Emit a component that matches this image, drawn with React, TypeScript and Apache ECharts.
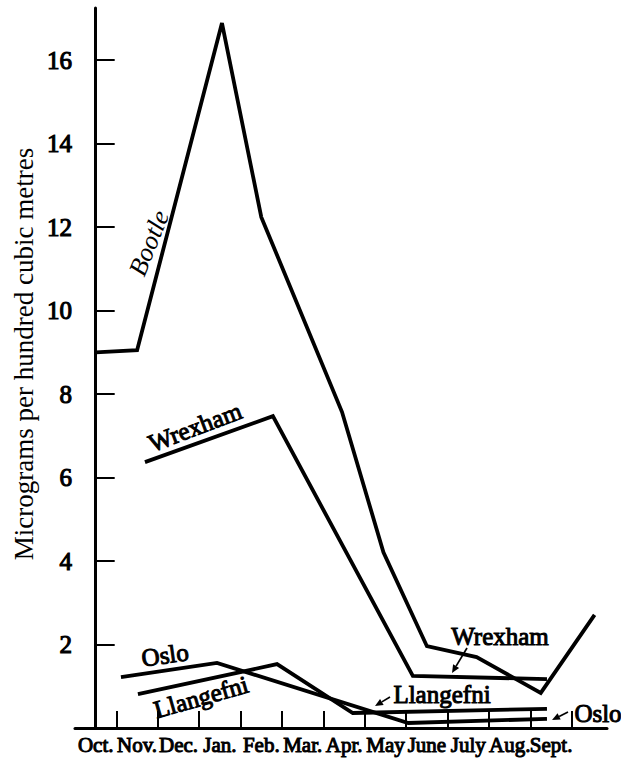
import React, { useEffect, useRef } from "react";
import * as echarts from "echarts";

// Month labels (category bands along the x axis)
const months = ["Oct.", "Nov.", "Dec.", "Jan.", "Feb.", "Mar.", "Apr.", "May", "June", "July", "Aug.", "Sept."];
const monthPositions = [0, 1, 2, 3, 4, 5, 6, 7, 8, 9, 10, 11];
const monthBoundaries = [0.5, 1.5, 2.5, 3.5, 4.5, 5.5, 6.5, 7.5, 8.5, 9.5, 10.5, 11.5];
const yTicks = [2, 4, 6, 8, 10, 12, 14, 16];

// Series: x = month position (0 = Oct.), y = micrograms per hundred cubic metres
const bootleX = [0, 1, 3.05, 4, 5.95, 6.95, 8, 9.2, 10.75, 12.05];
const bootleY = [9.0, 9.05, 16.89, 12.24, 7.57, 4.21, 1.96, 1.7, 0.84, 2.71];

const wrexhamX = [1.19, 4.28, 7.66, 10.9];
const wrexhamY = [6.37, 7.47, 1.25, 1.17];

const osloX = [0.61, 2.93, 7.55, 10.9];
const osloY = [1.22, 1.56, 0.12, 0.22];

const llangefniX = [1.02, 4.38, 6.21, 10.9];
const llangefniY = [0.81, 1.53, 0.36, 0.46];

const X_MIN = -0.5;
const X_MAX = 12.35;

const pairs = (xs: number[], ys: number[]) => xs.map((x, i) => [x, ys[i]]);

const SERIF = "Liberation Serif, Times New Roman, serif";

function arrow(x1: number, y1: number, x2: number, y2: number) {
  const dx = x2 - x1;
  const dy = y2 - y1;
  const len = Math.sqrt(dx * dx + dy * dy);
  const ux = dx / len;
  const uy = dy / len;
  const hl = 8;
  const hw = 3.5;
  const bx = x2 - ux * hl;
  const by = y2 - uy * hl;
  return {
    type: "group",
    children: [
      {
        type: "line",
        shape: { x1, y1, x2: bx, y2: by },
        style: { stroke: "#000", lineWidth: 1.7 },
      },
      {
        type: "polygon",
        shape: {
          points: [
            [x2, y2],
            [bx - uy * hw, by + ux * hw],
            [bx + uy * hw, by - ux * hw],
          ],
        },
        style: { fill: "#000" },
      },
    ],
  };
}

function label(text: string, x: number, y: number, deg: number, opts: any = {}) {
  const bold = opts.bold !== false;
  return {
    type: "text",
    x,
    y,
    rotation: (deg * Math.PI) / 180,
    style: {
      text,
      x: 0,
      y: 0,
      align: "center",
      verticalAlign: "middle",
      fill: "#000",
      stroke: bold ? "#000" : undefined,
      lineWidth: bold ? 1.0 : 0,
      font: opts.font || `25px ${SERIF}`,
    },
  };
}

export default function App() {
  const ref = useRef<HTMLDivElement>(null);

  useEffect(() => {
    if (!ref.current) return;
    const chart = echarts.init(ref.current, null, { renderer: "svg" });
    const lineStyle = { color: "#000", width: 3.8, join: "miter", cap: "butt" };
    const mk = (name: string, xs: number[], ys: number[]) => ({
      name,
      type: "line",
      data: pairs(xs, ys),
      symbol: "none",
      silent: true,
      lineStyle,
      z: 3,
    });
    chart.setOption({
      animation: false,
      backgroundColor: "#fff",
      grid: { left: 75, right: 14, top: 8, bottom: 36, containLabel: false },
      xAxis: {
        type: "value",
        min: X_MIN,
        max: X_MAX,
        axisLine: { show: true, lineStyle: { color: "#000", width: 3 } },
        axisTick: {
          show: true,
          inside: true,
          length: 17,
          customValues: monthBoundaries,
          lineStyle: { color: "#000", width: 2 },
        },
        axisLabel: {
          show: true,
          // blank end labels absorb the min/max overlap check so every month stays visible
          customValues: [X_MIN, ...monthPositions, X_MAX],
          formatter: (v: number) => (Number.isInteger(v) ? months[v] ?? " " : " "),
          color: "#000",
          fontFamily: SERIF,
          fontSize: 21,
          textBorderColor: "#000",
          textBorderWidth: 1.0,
          margin: 6,
          hideOverlap: false,
        },
        splitLine: { show: false },
      },
      yAxis: {
        type: "value",
        min: 0,
        max: 17.25,
        axisLine: { show: true, lineStyle: { color: "#000", width: 3 } },
        axisTick: {
          show: true,
          inside: true,
          length: 19,
          customValues: yTicks,
          lineStyle: { color: "#000", width: 2 },
        },
        axisLabel: {
          show: true,
          customValues: yTicks,
          color: "#000",
          fontFamily: SERIF,
          fontSize: 25,
          textBorderColor: "#000",
          textBorderWidth: 1.1,
          margin: 3,
          showMinLabel: true,
          showMaxLabel: true,
        },
        splitLine: { show: false },
      },
      series: [
        mk("Bootle", bootleX, bootleY),
        mk("Wrexham", wrexhamX, wrexhamY),
        mk("Oslo", osloX, osloY),
        mk("Llangefni", llangefniX, llangefniY),
      ],
      graphic: [
        label("Micrograms per hundred cubic metres", 24, 354, 90, { font: `27px ${SERIF}`, bold: false }),
        label("Bootle", 149, 243, 68, { font: `italic 26px ${SERIF}`, bold: false }),
        label("Wrexham", 195, 427, 20.7),
        label("Wrexham", 500, 636, 0),
        label("Oslo", 165, 655, 8),
        label("Llangefni", 201, 697, 16),
        label("Llangefni", 442, 694, 0),
        label("Oslo", 598, 713, 0),
        arrow(467, 648, 452, 673),
        arrow(390, 697, 375, 706),
        arrow(568, 712, 552, 720),
      ],
    });
    return () => chart.dispose();
  }, []);

  return (
    <div
      ref={ref}
      style={{ position: "fixed", left: 0, top: 0, width: 621, height: 764, background: "#fff" }}
    />
  );
}
